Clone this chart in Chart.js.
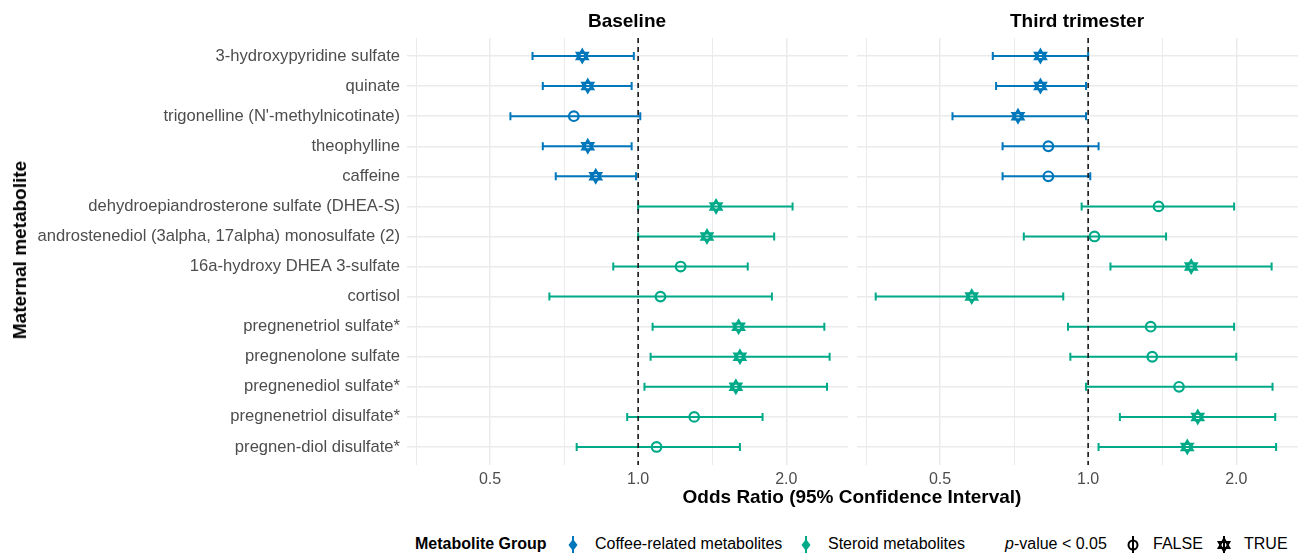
<!DOCTYPE html>
<html>
<head>
<meta charset="utf-8">
<script src="https://cdn.jsdelivr.net/npm/chart.js@4"></script>
<style>
  body { margin: 0; background: #fff; font-family: "Liberation Sans", Arial, sans-serif; }
  #wrap { position: relative; width: 1301px; height: 553px; overflow: hidden; }
  .abs { position: absolute; white-space: nowrap; }
  .title { font-weight: bold; font-size: 19px; color: #000; }
  .leg { font-size: 16px; color: #000; top: 535px; }
  svg { position: absolute; }
</style>
</head>
<body>
<div id="wrap">
  <canvas id="baseChart" class="abs" style="left:0;top:0"></canvas>
  <canvas id="thirdChart" class="abs" style="left:852px;top:0"></canvas>

  <div class="abs title" style="left:627px;top:10px;transform:translateX(-50%)">Baseline</div>
  <div class="abs title" style="left:1077px;top:10px;transform:translateX(-50%)">Third trimester</div>
  <div class="abs title" style="left:852px;top:486px;transform:translateX(-50%)">Odds Ratio (95% Confidence Interval)</div>
  <div class="abs title" style="left:20px;top:250px;transform:translate(-50%,-50%) rotate(-90deg)">Maternal metabolite</div>

  <!-- legend -->
  <div class="abs leg" style="left:415px;font-weight:bold">Metabolite Group</div>
  <svg style="left:565px;top:535px" width="16" height="20"><line x1="8" y1="1" x2="8" y2="19" stroke="#0077BB" stroke-width="2"/><polygon points="8,4 12.5,10 8,16 3.5,10" fill="#0077BB"/></svg>
  <div class="abs leg" style="left:595px">Coffee-related metabolites</div>
  <svg style="left:798px;top:535px" width="16" height="20"><line x1="8" y1="1" x2="8" y2="19" stroke="#00AA88" stroke-width="2"/><polygon points="8,4 12.5,10 8,16 3.5,10" fill="#00AA88"/></svg>
  <div class="abs leg" style="left:828px">Steroid metabolites</div>
  <div class="abs leg" style="left:1005px"><i>p</i>-value &lt; 0.05</div>
  <svg style="left:1125px;top:535px" width="16" height="20"><line x1="8" y1="1" x2="8" y2="19" stroke="#000" stroke-width="2"/><circle cx="8" cy="10" r="4.5" fill="none" stroke="#000" stroke-width="2"/></svg>
  <div class="abs leg" style="left:1153px">FALSE</div>
  <svg style="left:1216px;top:535px" width="16" height="20"><line x1="8" y1="1" x2="8" y2="19" stroke="#000" stroke-width="2"/><polygon points="8,3.5 13.5,13 2.5,13" fill="none" stroke="#000" stroke-width="1.8"/><polygon points="8,16.5 13.5,7 2.5,7" fill="none" stroke="#000" stroke-width="1.8"/></svg>
  <div class="abs leg" style="left:1244px">TRUE</div>
</div>

<script>
// ---------------------------------------------------------
// Data
// ---------------------------------------------------------
const metabolites = [
  "3-hydroxypyridine sulfate",
  "quinate",
  "trigonelline (N'-methylnicotinate)",
  "theophylline",
  "caffeine",
  "dehydroepiandrosterone sulfate (DHEA-S)",
  "androstenediol (3alpha, 17alpha) monosulfate (2)",
  "16a-hydroxy DHEA 3-sulfate",
  "cortisol",
  "pregnenetriol sulfate*",
  "pregnenolone sulfate",
  "pregnenediol sulfate*",
  "pregnenetriol disulfate*",
  "pregnen-diol disulfate*"
];
const metaboliteGroup = ["coffee", "coffee", "coffee", "coffee", "coffee",
  "steroid", "steroid", "steroid", "steroid", "steroid", "steroid", "steroid", "steroid", "steroid"];

const baselineOR = [0.77, 0.79, 0.74, 0.79, 0.82, 1.44, 1.38, 1.22, 1.11, 1.60, 1.61, 1.58, 1.30, 1.09];
const baselineLo = [0.61, 0.64, 0.55, 0.64, 0.68, 1.00, 1.00, 0.89, 0.66, 1.07, 1.06, 1.03, 0.95, 0.75];
const baselineHi = [0.98, 0.97, 1.01, 0.97, 0.99, 2.06, 1.89, 1.67, 1.87, 2.39, 2.45, 2.42, 1.79, 1.61];
const baselineSig = [true, true, false, true, true, true, true, false, false, true, true, true, false, false];

const thirdOR = [0.80, 0.80, 0.72, 0.83, 0.83, 1.39, 1.03, 1.62, 0.58, 1.34, 1.35, 1.53, 1.67, 1.59];
const thirdLo = [0.64, 0.65, 0.53, 0.67, 0.67, 0.97, 0.74, 1.11, 0.37, 0.91, 0.92, 0.99, 1.16, 1.05];
const thirdHi = [1.00, 0.99, 0.99, 1.05, 1.01, 1.98, 1.44, 2.36, 0.89, 1.98, 2.00, 2.37, 2.40, 2.41];
const thirdSig = [true, true, true, false, false, false, false, true, true, false, false, false, true, true];

const xTickValues = [0.3536, 0.5, 0.7071, 1, 1.4142, 2];
const xTickLabels = { 0.5: "0.5", 1: "1.0", 2: "2.0" };

const groupColors = { coffee: "#0077BB", steroid: "#00AA88" };

// ---------------------------------------------------------
// Plugin: error bars + dashed reference line at OR = 1
// ---------------------------------------------------------
const errorBarPlugin = {
  id: 'errorBars',
  beforeDatasetsDraw(chart, args, opts) {
    const { ctx, chartArea, scales: { x, y } } = chart;
    ctx.save();
    opts.lo.forEach((lo, i) => {
      const x0 = x.getPixelForValue(lo);
      const x1 = x.getPixelForValue(opts.hi[i]);
      const py = y.getPixelForValue(i + 1);
      ctx.strokeStyle = groupColors[metaboliteGroup[i]];
      ctx.lineWidth = 2;
      ctx.beginPath();
      ctx.moveTo(x0, py); ctx.lineTo(x1, py);
      ctx.moveTo(x0, py - 4); ctx.lineTo(x0, py + 4);
      ctx.moveTo(x1, py - 4); ctx.lineTo(x1, py + 4);
      ctx.stroke();
    });
    // reference line
    const ref = x.getPixelForValue(1);
    ctx.strokeStyle = '#1a1a1a';
    ctx.lineWidth = 1.6;
    ctx.setLineDash([5, 4]);
    ctx.beginPath();
    ctx.moveTo(ref, chartArea.top);
    ctx.lineTo(ref, chartArea.bottom);
    ctx.stroke();
    ctx.restore();
  }
};

function buildDatasets(or, sig) {
  const pts = (want) => or.map((v, i) => sig[i] === want ? { x: v, y: i + 1 } : null).filter(p => p);
  const colorsFor = (want) => or.map((v, i) => i).filter(i => sig[i] === want).map(i => groupColors[metaboliteGroup[i]]);
  return [
    { data: pts(false), pointStyle: 'circle', pointRadius: 4.8, pointBorderWidth: 2.2,
      pointBorderColor: colorsFor(false), pointBackgroundColor: 'rgba(0,0,0,0)' },
    { data: pts(true), pointStyle: 'triangle', pointRadius: 6.3, pointBorderWidth: 2.2, rotation: 0,
      pointBorderColor: colorsFor(true), pointBackgroundColor: 'rgba(0,0,0,0)' },
    { data: pts(true), pointStyle: 'triangle', pointRadius: 6.3, pointBorderWidth: 2.2, rotation: 180,
      pointBorderColor: colorsFor(true), pointBackgroundColor: 'rgba(0,0,0,0)' }
  ];
}

function makePanel(canvasId, width, or, lo, hi, sig, showLabels) {
  const canvas = document.getElementById(canvasId);
  canvas.width = width;
  canvas.height = 492;
  return new Chart(canvas.getContext('2d'), {
    type: 'scatter',
    data: { datasets: buildDatasets(or, sig) },
    options: {
      responsive: false,
      animation: false,
      layout: { autoPadding: false, padding: { top: 38, right: showLabels ? 4 : 3, left: 0, bottom: 0 } },
      plugins: {
        legend: { display: false },
        tooltip: { enabled: false },
        errorBars: { lo: lo, hi: hi }
      },
      scales: {
        x: {
          type: 'logarithmic',
          bounds: 'data',
          min: 0.339,
          max: 2.67,
          afterBuildTicks: (scale) => { scale.ticks = xTickValues.map(v => ({ value: v })); },
          afterFit: (scale) => { scale.height = 492 - 465; },
          ticks: {
            autoSkip: false,
            maxRotation: 0,
            padding: 5,
            color: '#4d4d4d',
            font: { family: 'Liberation Sans', size: 16 },
            callback: (v) => xTickLabels[v] || ''
          },
          grid: {
            color: '#ebebeb',
            lineWidth: (c) => (c.tick && xTickLabels[c.tick.value]) ? 1.5 : 1,
            drawTicks: false
          },
          border: { display: false }
        },
        y: {
          type: 'linear',
          reverse: true,
          min: 0.4,
          max: 14.6,
          afterBuildTicks: (scale) => { scale.ticks = metabolites.map((m, i) => ({ value: i + 1 })); },
          afterFit: (scale) => { scale.width = showLabels ? 407 : 5; },
          ticks: {
            display: showLabels,
            autoSkip: false,
            padding: 7,
            color: '#4d4d4d',
            font: { family: 'Liberation Sans', size: 16.6 },
            callback: (v) => metabolites[v - 1]
          },
          grid: { color: '#ebebeb', lineWidth: 1.5, drawTicks: false },
          border: { display: false }
        }
      }
    },
    plugins: [errorBarPlugin]
  });
}

window.baselineChart = makePanel('baseChart', 852, baselineOR, baselineLo, baselineHi, baselineSig, true);
window.thirdChart = makePanel('thirdChart', 449, thirdOR, thirdLo, thirdHi, thirdSig, false);
</script>
</body>
</html>
